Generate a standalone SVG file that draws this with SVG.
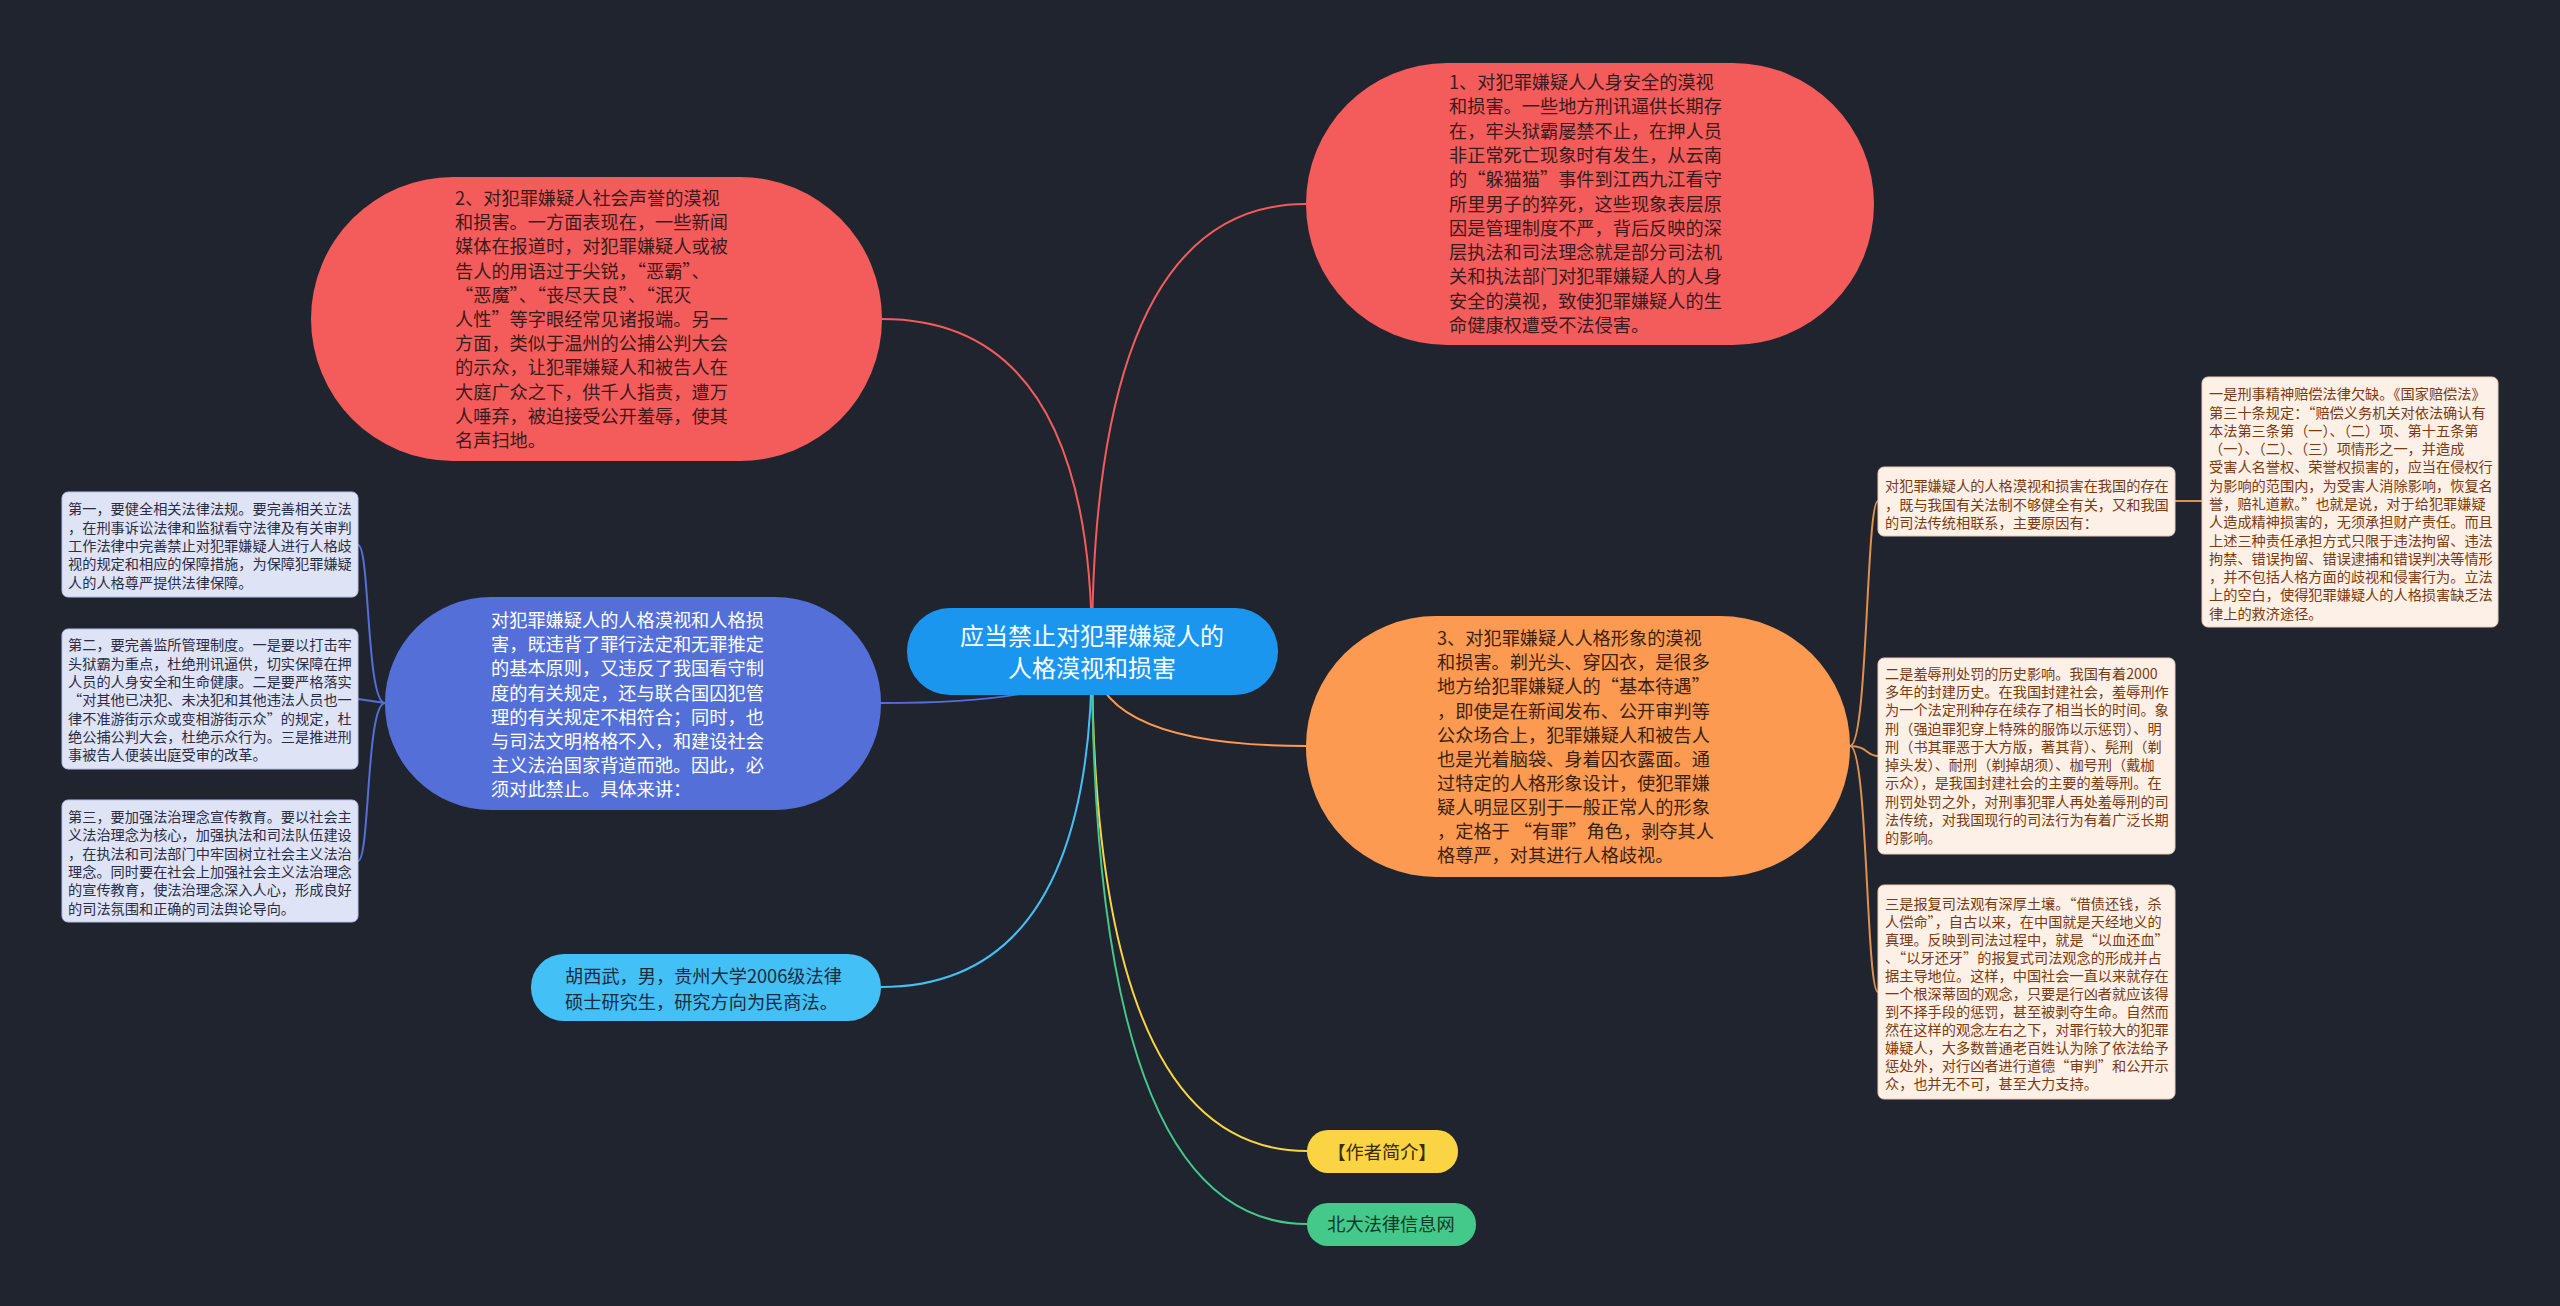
<svg xmlns="http://www.w3.org/2000/svg" width="2560" height="1306" viewBox="0 0 2560 1306">
<style>
text{font-family:"Noto Sans CJK SC","Noto Sans",sans-serif;}
.conn{fill:none;stroke-width:2;}
.t18{font-size:18.2px;}
.t14{font-size:14.2px;}
.dark{fill:#3a1b1b;}
.white{fill:#ffffff;}
.lbox{fill:#dfe3f6;stroke:#b7c0e6;stroke-width:1;}
.rbox{fill:#fdf0e6;stroke:#eccbb2;stroke-width:1;}
.ltxt{fill:#2b2d45;}
.rtxt{fill:#7a3b12;}
</style>
<rect x="0" y="0" width="2560" height="1306" fill="#20242f"/>
<g id="connectors">
<path class="conn" stroke="#f45c5c" d="M1092,651 Q1092,204 1306,204"/>
<path class="conn" stroke="#f45c5c" d="M1092,651 Q1092,319 882,319"/>
<path class="conn" stroke="#5470d8" d="M1092,651 Q1092,703 881,703"/>
<path class="conn" stroke="#43c0f6" d="M1092,651 Q1092,987 881,987"/>
<path class="conn" stroke="#fd9a52" d="M1092,651 Q1092,746 1306,746"/>
<path class="conn" stroke="#fad443" d="M1092,651 Q1092,1151 1307,1151"/>
<path class="conn" stroke="#44c98b" d="M1092,651 Q1092,1224 1307,1224"/>
<path class="conn" stroke="#5470d8" d="M385,703 C366,703 370,545 358,545"/>
<path class="conn" stroke="#5470d8" d="M385,703 L358,699"/>
<path class="conn" stroke="#5470d8" d="M385,703 C366,703 370,861 358,861"/>
<path class="conn" stroke="#e0904e" d="M1850,746 C1868,746 1866,501 1878,501"/>
<path class="conn" stroke="#e0904e" d="M1850,746 C1868,746 1866,756 1878,756"/>
<path class="conn" stroke="#e0904e" d="M1850,746 C1868,746 1866,992 1878,992"/>
<path class="conn" stroke="#e0904e" d="M2175,501 L2202,501"/>
</g>
<g id="center">
<rect x="907" y="608" width="371" height="87" rx="43" fill="#1b96ef"/>
<text class="white" font-size="24" text-anchor="middle"><tspan x="1092" y="644.5">应当禁止对犯罪嫌疑人的</tspan><tspan x="1092" y="676.5">人格漠视和损害</tspan></text>
</g>
<g id="node1">
<rect x="1306" y="63" width="568" height="282" rx="141" fill="#f45c5c"/>
<text class="t18 dark">
<tspan x="1449" y="89">1、对犯罪嫌疑人人身安全的漠视</tspan>
<tspan x="1449" y="113.3">和损害。一些地方刑讯逼供长期存</tspan>
<tspan x="1449" y="137.6">在，牢头狱霸屡禁不止，在押人员</tspan>
<tspan x="1449" y="161.9">非正常死亡现象时有发生，从云南</tspan>
<tspan x="1449" y="186.2">的“躲猫猫”事件到江西九江看守</tspan>
<tspan x="1449" y="210.5">所里男子的猝死，这些现象表层原</tspan>
<tspan x="1449" y="234.8">因是管理制度不严，背后反映的深</tspan>
<tspan x="1449" y="259.1">层执法和司法理念就是部分司法机</tspan>
<tspan x="1449" y="283.4">关和执法部门对犯罪嫌疑人的人身</tspan>
<tspan x="1449" y="307.7">安全的漠视，致使犯罪嫌疑人的生</tspan>
<tspan x="1449" y="332">命健康权遭受不法侵害。</tspan>
</text>
</g>
<g id="node2">
<rect x="311" y="177" width="571" height="284" rx="142" fill="#f45c5c"/>
<text class="t18 dark">
<tspan x="455" y="205">2、对犯罪嫌疑人社会声誉的漠视</tspan>
<tspan x="455" y="229.2">和损害。一方面表现在，一些新闻</tspan>
<tspan x="455" y="253.4">媒体在报道时，对犯罪嫌疑人或被</tspan>
<tspan x="455" y="277.6">告人的用语过于尖锐，“恶霸”、</tspan>
<tspan x="455" y="301.8">“恶魔”、“丧尽天良”、“泯灭</tspan>
<tspan x="455" y="326">人性”等字眼经常见诸报端。另一</tspan>
<tspan x="455" y="350.2">方面，类似于温州的公捕公判大会</tspan>
<tspan x="455" y="374.4">的示众，让犯罪嫌疑人和被告人在</tspan>
<tspan x="455" y="398.6">大庭广众之下，供千人指责，遭万</tspan>
<tspan x="455" y="422.8">人唾弃，被迫接受公开羞辱，使其</tspan>
<tspan x="455" y="447">名声扫地。</tspan>
</text>
</g>
<g id="node-blue">
<rect x="385" y="597" width="496" height="213" rx="106" fill="#5470d8"/>
<text class="t18 white">
<tspan x="491" y="627">对犯罪嫌疑人的人格漠视和人格损</tspan>
<tspan x="491" y="651.2">害，既违背了罪行法定和无罪推定</tspan>
<tspan x="491" y="675.4">的基本原则，又违反了我国看守制</tspan>
<tspan x="491" y="699.6">度的有关规定，还与联合国囚犯管</tspan>
<tspan x="491" y="723.8">理的有关规定不相符合；同时，也</tspan>
<tspan x="491" y="748">与司法文明格格不入，和建设社会</tspan>
<tspan x="491" y="772.2">主义法治国家背道而弛。因此，必</tspan>
<tspan x="491" y="796.4">须对此禁止。具体来讲：</tspan>
</text>
</g>
<g id="box-l1">
<rect class="lbox" x="62" y="492" width="296" height="105" rx="6"/>
<text class="t14 ltxt">
<tspan x="68" y="514.3">第一，要健全相关法律法规。要完善相关立法</tspan>
<tspan x="68" y="532.6">，在刑事诉讼法律和监狱看守法律及有关审判</tspan>
<tspan x="68" y="550.9">工作法律中完善禁止对犯罪嫌疑人进行人格歧</tspan>
<tspan x="68" y="569.2">视的规定和相应的保障措施，为保障犯罪嫌疑</tspan>
<tspan x="68" y="587.5">人的人格尊严提供法律保障。</tspan>
</text>
</g>
<g id="box-l2">
<rect class="lbox" x="62" y="629" width="296" height="140" rx="6"/>
<text class="t14 ltxt">
<tspan x="68" y="650.3">第二，要完善监所管理制度。一是要以打击牢</tspan>
<tspan x="68" y="668.6">头狱霸为重点，杜绝刑讯逼供，切实保障在押</tspan>
<tspan x="68" y="686.9">人员的人身安全和生命健康。二是要严格落实</tspan>
<tspan x="68" y="705.2">“对其他已决犯、未决犯和其他违法人员也一</tspan>
<tspan x="68" y="723.5">律不准游街示众或变相游街示众”的规定，杜</tspan>
<tspan x="68" y="741.8">绝公捕公判大会，杜绝示众行为。三是推进刑</tspan>
<tspan x="68" y="760.1">事被告人便装出庭受审的改革。</tspan>
</text>
</g>
<g id="box-l3">
<rect class="lbox" x="62" y="800" width="296" height="122" rx="6"/>
<text class="t14 ltxt">
<tspan x="68" y="822">第三，要加强法治理念宣传教育。要以社会主</tspan>
<tspan x="68" y="840.3">义法治理念为核心，加强执法和司法队伍建设</tspan>
<tspan x="68" y="858.6">，在执法和司法部门中牢固树立社会主义法治</tspan>
<tspan x="68" y="876.9">理念。同时要在社会上加强社会主义法治理念</tspan>
<tspan x="68" y="895.2">的宣传教育，使法治理念深入人心，形成良好</tspan>
<tspan x="68" y="913.5">的司法氛围和正确的司法舆论导向。</tspan>
</text>
</g>
<g id="node-orange">
<rect x="1306" y="616" width="544" height="261" rx="130" fill="#fd9a52"/>
<text class="t18" fill="#3b2210">
<tspan x="1437" y="645">3、对犯罪嫌疑人人格形象的漠视</tspan>
<tspan x="1437" y="669.2">和损害。剃光头、穿囚衣，是很多</tspan>
<tspan x="1437" y="693.3">地方给犯罪嫌疑人的“基本待遇”</tspan>
<tspan x="1437" y="717.5">，即使是在新闻发布、公开审判等</tspan>
<tspan x="1437" y="741.6">公众场合上，犯罪嫌疑人和被告人</tspan>
<tspan x="1437" y="765.8">也是光着脑袋、身着囚衣露面。通</tspan>
<tspan x="1437" y="789.9">过特定的人格形象设计，使犯罪嫌</tspan>
<tspan x="1437" y="814.1">疑人明显区别于一般正常人的形象</tspan>
<tspan x="1437" y="838.2">，定格于 “有罪”角色，剥夺其人</tspan>
<tspan x="1437" y="862.4">格尊严，对其进行人格歧视。</tspan>
</text>
</g>
<g id="box-r1">
<rect class="rbox" x="1878" y="467" width="297" height="69" rx="6"/>
<text class="t14 rtxt">
<tspan x="1885" y="491.3">对犯罪嫌疑人的人格漠视和损害在我国的存在</tspan>
<tspan x="1885" y="509.6">，既与我国有关法制不够健全有关，又和我国</tspan>
<tspan x="1885" y="527.9">的司法传统相联系，主要原因有：</tspan>
</text>
</g>
<g id="box-r1a">
<rect class="rbox" x="2202" y="377" width="296" height="250" rx="6"/>
<text class="t14 rtxt">
<tspan x="2209" y="399.3">一是刑事精神赔偿法律欠缺。《国家赔偿法》</tspan>
<tspan x="2209" y="417.6">第三十条规定：“赔偿义务机关对依法确认有</tspan>
<tspan x="2209" y="435.8">本法第三条第（一）、（二）项、第十五条第</tspan>
<tspan x="2209" y="454.1">（一）、（二）、（三）项情形之一，并造成</tspan>
<tspan x="2209" y="472.4">受害人名誉权、荣誉权损害的，应当在侵权行</tspan>
<tspan x="2209" y="490.7">为影响的范围内，为受害人消除影响，恢复名</tspan>
<tspan x="2209" y="508.9">誉，赔礼道歉。”也就是说，对于给犯罪嫌疑</tspan>
<tspan x="2209" y="527.2">人造成精神损害的，无须承担财产责任。而且</tspan>
<tspan x="2209" y="545.5">上述三种责任承担方式只限于违法拘留、违法</tspan>
<tspan x="2209" y="563.7">拘禁、错误拘留、错误逮捕和错误判决等情形</tspan>
<tspan x="2209" y="582">，并不包括人格方面的歧视和侵害行为。立法</tspan>
<tspan x="2209" y="600.3">上的空白，使得犯罪嫌疑人的人格损害缺乏法</tspan>
<tspan x="2209" y="618.5">律上的救济途径。</tspan>
</text>
</g>
<g id="box-r2">
<rect class="rbox" x="1878" y="658" width="297" height="196" rx="6"/>
<text class="t14 rtxt">
<tspan x="1885" y="678.6">二是羞辱刑处罚的历史影响。我国有着2000</tspan>
<tspan x="1885" y="696.9">多年的封建历史。在我国封建社会，羞辱刑作</tspan>
<tspan x="1885" y="715.2">为一个法定刑种存在续存了相当长的时间。象</tspan>
<tspan x="1885" y="733.5">刑（强迫罪犯穿上特殊的服饰以示惩罚）、明</tspan>
<tspan x="1885" y="751.8">刑（书其罪恶于大方版，著其背）、髡刑（剃</tspan>
<tspan x="1885" y="770.1">掉头发）、耐刑（剃掉胡须）、枷号刑（戴枷</tspan>
<tspan x="1885" y="788.4">示众），是我国封建社会的主要的羞辱刑。在</tspan>
<tspan x="1885" y="806.7">刑罚处罚之外，对刑事犯罪人再处羞辱刑的司</tspan>
<tspan x="1885" y="825">法传统，对我国现行的司法行为有着广泛长期</tspan>
<tspan x="1885" y="843.3">的影响。</tspan>
</text>
</g>
<g id="box-r3">
<rect class="rbox" x="1878" y="885" width="297" height="214" rx="6"/>
<text class="t14 rtxt">
<tspan x="1885" y="908.6">三是报复司法观有深厚土壤。“借债还钱，杀</tspan>
<tspan x="1885" y="926.7">人偿命”，自古以来，在中国就是天经地义的</tspan>
<tspan x="1885" y="944.7">真理。反映到司法过程中，就是“以血还血”</tspan>
<tspan x="1885" y="962.8">、“以牙还牙”的报复式司法观念的形成并占</tspan>
<tspan x="1885" y="980.8">据主导地位。这样，中国社会一直以来就存在</tspan>
<tspan x="1885" y="998.9">一个根深蒂固的观念，只要是行凶者就应该得</tspan>
<tspan x="1885" y="1016.9">到不择手段的惩罚，甚至被剥夺生命。自然而</tspan>
<tspan x="1885" y="1035">然在这样的观念左右之下，对罪行较大的犯罪</tspan>
<tspan x="1885" y="1053">嫌疑人，大多数普通老百姓认为除了依法给予</tspan>
<tspan x="1885" y="1071.1">惩处外，对行凶者进行道德“审判”和公开示</tspan>
<tspan x="1885" y="1089.1">众，也并无不可，甚至大力支持。</tspan>
</text>
</g>
<g id="node-author">
<rect x="531" y="954" width="350" height="67" rx="33" fill="#43c0f6"/>
<text class="t18" fill="#1b2b3c">
<tspan x="565" y="982.6">胡西武，男，贵州大学2006级法律</tspan>
<tspan x="565" y="1008.5">硕士研究生，研究方向为民商法。</tspan>
</text>
</g>
<g id="node-intro">
<rect x="1307" y="1130" width="151" height="43" rx="21" fill="#fad443"/>
<text class="t18" fill="#3a2a00" text-anchor="middle" x="1382" y="1158.5">【作者简介】</text>
</g>
<g id="node-source">
<rect x="1307" y="1203" width="169" height="43" rx="21" fill="#44c98b"/>
<text class="t18" fill="#12382a" text-anchor="middle" x="1391" y="1231">北大法律信息网</text>
</g>
</svg>
